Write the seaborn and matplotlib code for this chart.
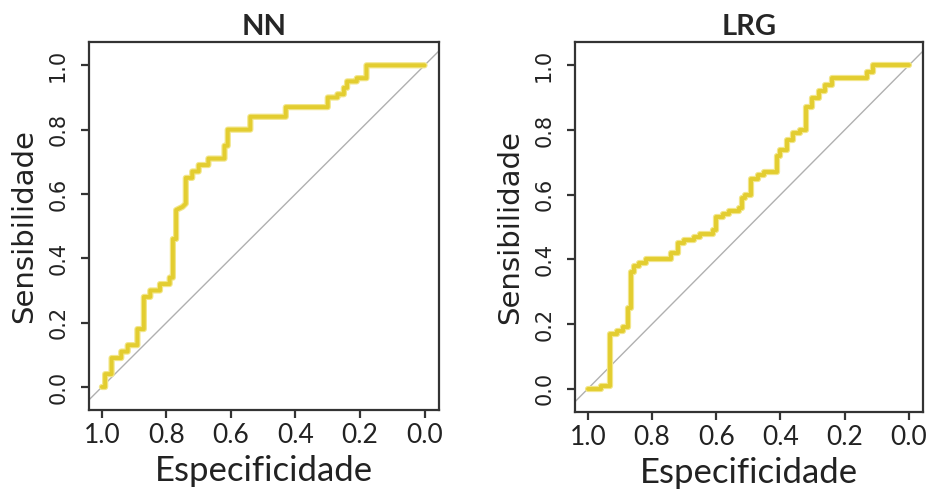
import pandas as pd
import seaborn as sns
import matplotlib.pyplot as plt

# curvas ROC (especificidade, sensibilidade)
nn_espec = [1.00, 0.99, 0.99, 0.97, 0.97, 0.94, 0.94, 0.92, 0.92, 0.89, 0.89, 0.87, 0.87,
            0.85, 0.85, 0.82, 0.82, 0.79, 0.79, 0.78, 0.78, 0.77, 0.77, 0.75, 0.74, 0.74,
            0.72, 0.72, 0.70, 0.70, 0.67, 0.67, 0.62, 0.62, 0.61, 0.61, 0.54, 0.54, 0.43,
            0.43, 0.30, 0.30, 0.27, 0.27, 0.25, 0.25, 0.24, 0.24, 0.21, 0.21, 0.18, 0.18, 0.00]
nn_sens = [0.00, 0.00, 0.04, 0.04, 0.09, 0.09, 0.11, 0.11, 0.13, 0.13, 0.18, 0.18, 0.28,
           0.28, 0.30, 0.30, 0.32, 0.32, 0.34, 0.34, 0.46, 0.46, 0.55, 0.56, 0.57, 0.65,
           0.65, 0.67, 0.67, 0.69, 0.69, 0.71, 0.71, 0.75, 0.75, 0.80, 0.80, 0.84, 0.84,
           0.87, 0.87, 0.90, 0.90, 0.91, 0.91, 0.93, 0.93, 0.95, 0.95, 0.96, 0.96, 1.00, 1.00]

lrg_espec = [1.00, 0.96, 0.96, 0.93, 0.93, 0.91, 0.91, 0.89, 0.89, 0.875, 0.875, 0.865, 0.865,
             0.855, 0.855, 0.84, 0.84, 0.82, 0.82, 0.74, 0.74, 0.72, 0.72, 0.70, 0.70, 0.67,
             0.67, 0.65, 0.65, 0.61, 0.61, 0.60, 0.60, 0.58, 0.58, 0.56, 0.56, 0.53, 0.53,
             0.52, 0.52, 0.51, 0.51, 0.49, 0.49, 0.47, 0.47, 0.45, 0.45, 0.41, 0.41, 0.40,
             0.40, 0.38, 0.38, 0.36, 0.36, 0.34, 0.34, 0.32, 0.32, 0.30, 0.30, 0.28, 0.28,
             0.26, 0.26, 0.24, 0.24, 0.13, 0.13, 0.11, 0.11, 0.00]
lrg_sens = [0.00, 0.00, 0.01, 0.01, 0.17, 0.17, 0.18, 0.18, 0.19, 0.19, 0.25, 0.25, 0.36,
            0.36, 0.38, 0.38, 0.39, 0.39, 0.40, 0.40, 0.42, 0.42, 0.45, 0.45, 0.46, 0.46,
            0.47, 0.47, 0.48, 0.48, 0.49, 0.49, 0.53, 0.53, 0.54, 0.54, 0.55, 0.55, 0.56,
            0.56, 0.59, 0.59, 0.60, 0.60, 0.65, 0.65, 0.66, 0.66, 0.67, 0.67, 0.72, 0.72,
            0.74, 0.74, 0.77, 0.77, 0.79, 0.79, 0.80, 0.80, 0.87, 0.87, 0.90, 0.90, 0.92,
            0.92, 0.94, 0.94, 0.96, 0.96, 0.98, 0.98, 1.00, 1.00]

titulos = ["NN", "LRG"]
ticks = [1.0, 0.8, 0.6, 0.4, 0.2, 0.0]
ticks_txt = ["1.0", "0.8", "0.6", "0.4", "0.2", "0.0"]

sns.set_style("white")
narrow = ["Lato", "DejaVu Sans"]

fig = plt.figure(figsize=(9.31, 4.9), dpi=100)
posicoes = [[0.0956, 0.163, 0.376, 0.751], [0.6176, 0.159, 0.374, 0.755]]
dados = [(nn_espec, nn_sens), (lrg_espec, lrg_sens)]

for pos, (espec, sens), titulo in zip(posicoes, dados, titulos):
    ax = fig.add_axes(pos)
    df = pd.DataFrame({"espec": espec, "sens": sens})
    # diagonal de referencia
    ax.axline((1, 0), (0, 1), color="#b0b0b0", lw=1, zorder=1)
    sns.lineplot(data=df, x="espec", y="sens", sort=False, estimator=None,
                 color="#f2e68a", lw=4.5, ax=ax, zorder=2)
    sns.lineplot(data=df, x="espec", y="sens", sort=False, estimator=None,
                 color="#e3cd30", lw=2.8, ax=ax, zorder=3)
    ax.set_xlim(1.04, -0.045)
    ax.set_ylim(-0.072, 1.072)
    ax.set_xticks(ticks)
    ax.set_xticklabels(ticks_txt, family=narrow, fontsize=19, color="#222222")
    ax.set_yticks(ticks)
    ax.set_yticklabels(ticks_txt, family="DejaVu Sans", fontsize=15, rotation=90,
                       va="center", color="#222222")
    ax.tick_params(axis="both", direction="out", length=6, width=1.6, color="#333333",
                   left=True, bottom=True)
    ax.tick_params(axis="x", pad=3)
    ax.tick_params(axis="y", pad=9)
    ax.set_xlabel("Especificidade", family=narrow, fontsize=25, color="#222222", labelpad=5)
    ax.set_ylabel("Sensibilidade", family="DejaVu Sans", fontsize=21, color="#222222",
                  labelpad=7)
    ax.set_title(titulo, family=narrow, fontsize=21, fontweight="bold", pad=5)
    for s in ax.spines.values():
        s.set_color("#333333")
        s.set_linewidth(1.6)
        s.set_visible(True)

fig.savefig("out.png", dpi=100)
